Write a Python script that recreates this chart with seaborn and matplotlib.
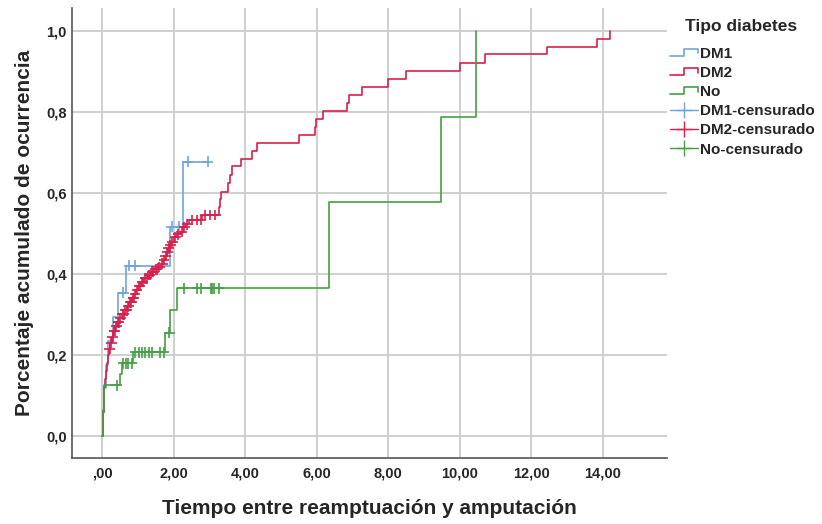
import numpy as np
import pandas as pd
import matplotlib
matplotlib.use("Agg")
import matplotlib.pyplot as plt
import seaborn as sns
from matplotlib.lines import Line2D
from matplotlib.legend_handler import HandlerBase

# ---------------- data ----------------
groups = ["DM1", "DM2", "No"]

dm1_times = [0.03, 0.05, 0.10, 0.17, 0.31, 0.43, 0.66, 1.91, 2.25]
dm1_cum = [0.059, 0.118, 0.176, 0.235, 0.294, 0.353, 0.42, 0.516, 0.677]
dm1_censored = [0.59, 0.76, 0.92, 1.94, 2.16, 2.39, 2.95]

dm2_times = [0.01, 0.02, 0.04, 0.06, 0.08, 0.11, 0.14, 0.17, 0.20, 0.23, 0.27,
             0.31, 0.36, 0.42, 0.48, 0.55, 0.62, 0.70, 0.76, 0.83, 0.90, 0.95,
             1.00, 1.08, 1.17, 1.27, 1.36, 1.46, 1.56, 1.65, 1.71, 1.76, 1.80,
             1.84, 1.88, 1.93, 2.00, 2.08, 2.17, 2.27, 2.33, 2.44, 2.78, 3.27,
             3.30, 3.33, 3.51, 3.57, 3.62, 3.87, 4.19, 4.32, 5.50, 5.95, 5.97,
             6.19, 6.86, 6.91, 7.28, 7.99, 8.50, 10.01, 10.70, 12.44, 13.84, 14.20]
dm2_cum = [0.03, 0.06, 0.09, 0.12, 0.14, 0.16, 0.18, 0.20, 0.215, 0.23, 0.245,
           0.26, 0.27, 0.28, 0.29, 0.30, 0.31, 0.32, 0.33, 0.34, 0.35, 0.36,
           0.37, 0.38, 0.389, 0.397, 0.405, 0.411, 0.417, 0.425, 0.434, 0.444, 0.454,
           0.463, 0.47, 0.478, 0.49, 0.497, 0.504, 0.515, 0.522, 0.533, 0.545, 0.565,
           0.585, 0.603, 0.625, 0.644, 0.665, 0.684, 0.704, 0.724, 0.743, 0.762, 0.782,
           0.802, 0.822, 0.842, 0.862, 0.881, 0.901, 0.921, 0.942, 0.96, 0.98, 1.0]
dm2_censored = [0.21, 0.25, 0.29, 0.33, 0.35, 0.39, 0.44, 0.46, 0.51, 0.57, 0.60,
                0.65, 0.68, 0.73, 0.79, 0.81, 0.86, 0.88, 0.92, 0.97, 1.03, 1.06,
                1.12, 1.14, 1.21, 1.24, 1.31, 1.33, 1.40, 1.43, 1.50, 1.53, 1.60,
                1.68, 1.73, 1.78, 1.82, 1.86, 1.90, 1.96, 2.04, 2.12, 2.22, 2.30,
                2.38, 2.52, 2.66, 2.76, 2.88, 3.02, 3.16]

no_times = [0.02, 0.06, 0.50, 0.56, 0.87, 1.77, 1.90, 2.08, 6.35, 9.48, 10.46]
no_cum = [0.063, 0.125, 0.152, 0.179, 0.206, 0.255, 0.31, 0.364, 0.576, 0.788, 1.0]
no_censored = [0.40, 0.59, 0.67, 0.73, 0.83, 0.92, 1.02, 1.11, 1.21, 1.30, 1.40,
               1.63, 1.72, 1.88, 2.28, 2.66, 2.75, 3.03, 3.08, 3.13, 3.27]

x_ticks = [0, 2, 4, 6, 8, 10, 12, 14]
x_tick_labels = [",00", "2,00", "4,00", "6,00", "8,00", "10,00", "12,00", "14,00"]
y_ticks = [0.0, 0.2, 0.4, 0.6, 0.8, 1.0]
y_tick_labels = ["0,0", "0,2", "0,4", "0,6", "0,8", "1,0"]

legend_title = "Tipo diabetes"
x_label = "Tiempo entre reamptuación y amputación"
y_label = "Porcentaje acumulado de ocurrencia"

colors = {"DM1": "#6ea3df", "DM2": "#d8204c", "No": "#43a043"}

# ---------------- build tables ----------------
series = {
    "DM1": (dm1_times, dm1_cum, dm1_censored),
    "DM2": (dm2_times, dm2_cum, dm2_censored),
    "No": (no_times, no_cum, no_censored),
}

line_rows = []
cens_rows = []
for g in groups:
    t, c, cz = series[g]
    xs = [0.0] + list(t)
    ys = [0.0] + list(c)
    last_c = max(cz) if cz else 0
    if last_c > xs[-1]:
        xs.append(last_c)
        ys.append(ys[-1])
    for xv, yv in zip(xs, ys):
        line_rows.append({"time": xv, "cum": yv, "grupo": g})
    t_arr = np.array(xs)
    y_arr = np.array(ys)
    for tc in cz:
        idx = np.searchsorted(t_arr, tc, side="right") - 1
        cens_rows.append({"time": tc, "cum": y_arr[idx], "grupo": g})

lines_df = pd.DataFrame(line_rows)
cens_df = pd.DataFrame(cens_rows)

# ---------------- plot ----------------
sns.set_style("white")
plt.rcParams["font.family"] = ["Liberation Sans", "DejaVu Sans"]
plt.rcParams["font.weight"] = "bold"

fig = plt.figure(figsize=(8.22, 5.24), dpi=100)
ax = fig.add_axes([0.088, 0.1265, 0.7234, 0.8582])

ax.set_axisbelow(True)
for xt in x_ticks:
    ax.axvline(xt, color="#cfcfcf", lw=1.4, zorder=0)
for yt in y_ticks:
    ax.axhline(yt, color="#cfcfcf", lw=1.4, zorder=0)

sns.lineplot(data=lines_df, x="time", y="cum", hue="grupo", hue_order=groups,
             palette=colors, estimator=None, sort=False, drawstyle="steps-post",
             lw=1.2, legend=False, ax=ax, zorder=3)
sns.scatterplot(data=cens_df, x="time", y="cum", hue="grupo", hue_order=groups,
                palette=colors, marker="+", s=60, linewidth=1.2, legend=False,
                ax=ax, zorder=4)

ax.set_xlim(-0.836, 15.8)
ax.set_ylim(-0.054, 1.056)
ax.set_xticks(x_ticks)
ax.set_xticklabels(x_tick_labels, fontsize=10.5, fontweight="bold")
ax.set_yticks(y_ticks)
ax.set_yticklabels(y_tick_labels, fontsize=10.5, fontweight="bold")
ax.tick_params(axis="both", length=0)
ax.tick_params(axis="x", pad=6)
ax.tick_params(axis="y", pad=4)

for s in ["top", "right"]:
    ax.spines[s].set_visible(False)
for s in ["left", "bottom"]:
    ax.spines[s].set_color("#555555")
    ax.spines[s].set_linewidth(1.2)

ax.set_xlabel(x_label, fontsize=15, fontweight="bold", labelpad=14)
ax.set_ylabel(y_label, fontsize=15, fontweight="bold", labelpad=9)


class StepHandler(HandlerBase):
    def create_artists(self, legend, orig_handle, xdescent, ydescent,
                       width, height, fontsize, trans):
        x0 = -xdescent
        y0 = -ydescent
        xs = [x0, x0 + 0.5 * width, x0 + 0.5 * width, x0 + width, x0 + width]
        ys = [y0 + 0.15 * height, y0 + 0.15 * height, y0 + 0.85 * height,
              y0 + 0.85 * height, y0 + 0.4 * height]
        ln = Line2D(xs, ys, color=orig_handle.get_color(), lw=1.2)
        ln.set_transform(trans)
        return [ln]


step_handles = [Line2D([], [], color=colors[g], lw=1.2) for g in groups]
cens_handles = [Line2D([], [], color=colors[g], lw=1.0, marker="+",
                       markersize=11, markeredgewidth=1.0) for g in groups]
labels = groups + [g + "-censurado" for g in groups]
hmap = {h: StepHandler() for h in step_handles}
fig.text(741 / 822, 1 - 26 / 524, legend_title, ha="center", va="center",
         fontsize=12.5, fontweight="bold")
leg = fig.legend(step_handles + cens_handles, labels, handler_map=hmap,
                 loc="upper left", bbox_to_anchor=(662 / 822, 1 - 39 / 524),
                 frameon=False, handlelength=1.85,
                 handletextpad=0.15, labelspacing=0.34, borderpad=0,
                 prop={"size": 11, "weight": "bold"})

fig.savefig("out.png", dpi=100)
